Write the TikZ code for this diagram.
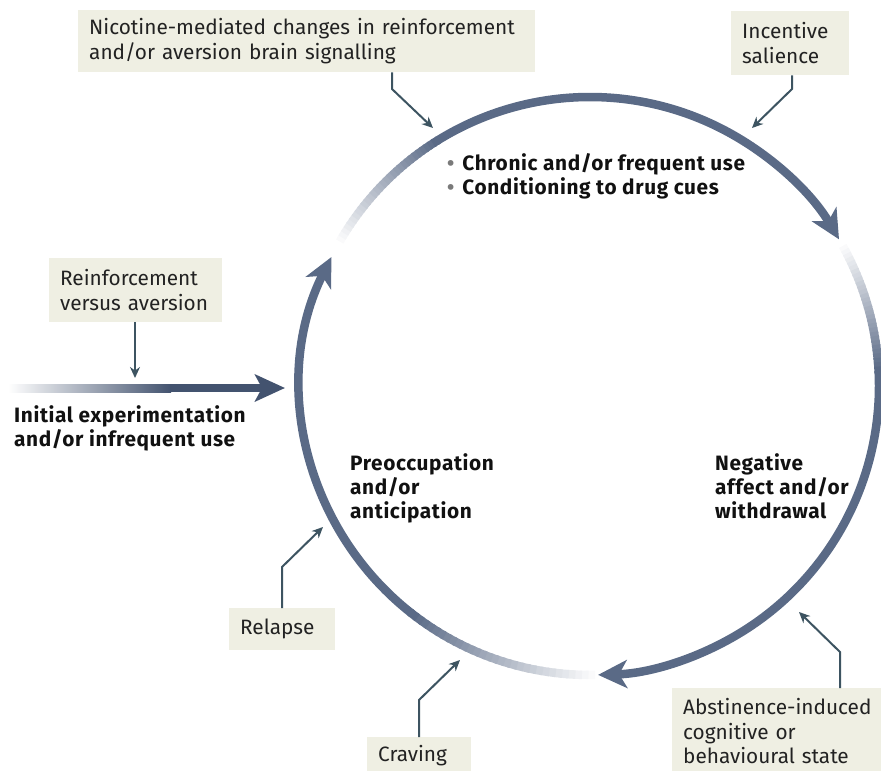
\documentclass[tikz,border=0pt]{standalone}
\usepackage{fontspec}
\setmainfont{Fira Sans}
\usetikzlibrary{arrows.meta}
\definecolor{CycleSlate}{HTML}{5A6A86}
\definecolor{EntryNavy}{HTML}{43536F}
\definecolor{CalloutTeal}{HTML}{3D5461}
\definecolor{TagBeige}{HTML}{EFEFE3}
\definecolor{BulletGrey}{HTML}{7A7A7A}
\definecolor{InkGrey}{HTML}{222222}
\definecolor{InkBlack}{HTML}{111111}

\tikzset{
  tag/.style={fill=TagBeige, anchor=north west, align=left, inner xsep=11pt,
    inner ysep=0pt, text=InkGrey, font=\fontsize{20.8}{24.5}\selectfont},
  stage/.style={anchor=north west, align=left, inner sep=0pt, text=InkBlack,
    font=\fontsize{20.8}{24}\selectfont\bfseries\addfontfeatures{LetterSpace=3}},
  callout/.style={CalloutTeal, line width=2pt, -{Stealth[length=11pt,width=10pt]}},
  cyclearc/.style={CycleSlate, line width=8.5pt, -{Stealth[length=29pt,width=28pt,inset=8pt]}},
}

\begin{document}
\begin{tikzpicture}[x=1pt,y=-1pt]
  \useasboundingbox (0,0) rectangle (881,771);
  \coordinate (hub) at (590,386);

  % cycle: three arcs, each fading in from white
  \foreach \from/\fade/\to in {-150/-122/-30.5, -29/-3/88.4, 89/128/206.5} {
    \pgfmathsetmacro{\dstep}{(\fade-\from)/30}
    \foreach \k in {0,...,29} {
      \pgfmathtruncatemacro{\pct}{3+\k*97/29}
      \draw[CycleSlate!\pct!white, line width=8.5pt]
        (hub) ++({\from+\k*\dstep}:289)
        arc[start angle={\from+\k*\dstep}, end angle={\from+(\k+1.4)*\dstep}, radius=289];
    }
    \draw[cyclearc] (hub) ++(\fade:289) arc[start angle=\fade, end angle=\to, radius=289];
  }

  % entry arrow
  \coordinate (entryFade) at (170,388);
  \coordinate (entryTip) at (285,388);
  \shade[left color=white, right color=EntryNavy] (8,384) rectangle (171,392);
  \draw[EntryNavy, line width=8pt, -{Stealth[length=30pt,width=27pt,inset=7pt]}] (entryFade) -- (entryTip);

  % stage labels
  \node[stage] (stInit) at (14,405) {Initial experimentation\\and/or infrequent use};
  \node[stage] (stPre) at (350,453) {Preoccupation\\and/or\\anticipation};
  \node[stage] (stNeg) at (715,453) {Negative\\affect and/or\\withdrawal};
  \node[stage] (stUse) at (447,153) {\textcolor{BulletGrey}{\textbullet}\hspace{8pt}Chronic and/or frequent use\\
    \textcolor{BulletGrey}{\textbullet}\hspace{8pt}Conditioning to drug cues};

  % callout boxes
  \node[tag, text width=435pt, minimum height=62pt] (tagNic) at (78,10)
    {Nicotine-mediated changes in reinforcement\\and/or aversion brain signalling};
  \node[tag, text width=96pt, minimum height=64pt] (tagSal) at (731,11) {Incentive\\salience};
  \node[tag, text width=151pt, minimum height=64pt] (tagRvA) at (49,258) {Reinforcement\\versus aversion};
  \node[tag, text width=84pt, minimum height=42pt] (tagRel) at (229,608) {Relapse};
  \node[tag, text width=82pt, minimum height=36pt] (tagCrv) at (367,737) {Craving};
  \node[tag, text width=198pt, minimum height=86pt] (tagAbs) at (672,688)
    {Abstinence-induced\\cognitive or\\behavioural state};

  % callout connectors
  \coordinate (kneeNic) at (392,89);  \coordinate (hitNic) at (433,128);
  \coordinate (kneeSal) at (792,89);  \coordinate (hitSal) at (752,128);
  \coordinate (hitRvA) at (135,378);
  \coordinate (kneeRel) at (282,567); \coordinate (hitRel) at (323,527);
  \coordinate (kneeCrv) at (419,700); \coordinate (hitCrv) at (460,660);
  \coordinate (kneeAbs) at (840,652); \coordinate (hitAbs) at (799,612);
  \draw[callout] (tagNic.south -| kneeNic) -- (kneeNic) -- (hitNic);
  \draw[callout] (tagSal.south -| kneeSal) -- (kneeSal) -- (hitSal);
  \draw[callout] (tagRvA.south -| hitRvA) -- (hitRvA);
  \draw[callout] (tagRel.north -| kneeRel) -- (kneeRel) -- (hitRel);
  \draw[callout] (tagCrv.north -| kneeCrv) -- (kneeCrv) -- (hitCrv);
  \draw[callout] (tagAbs.north -| kneeAbs) -- (kneeAbs) -- (hitAbs);
\end{tikzpicture}
\end{document}
